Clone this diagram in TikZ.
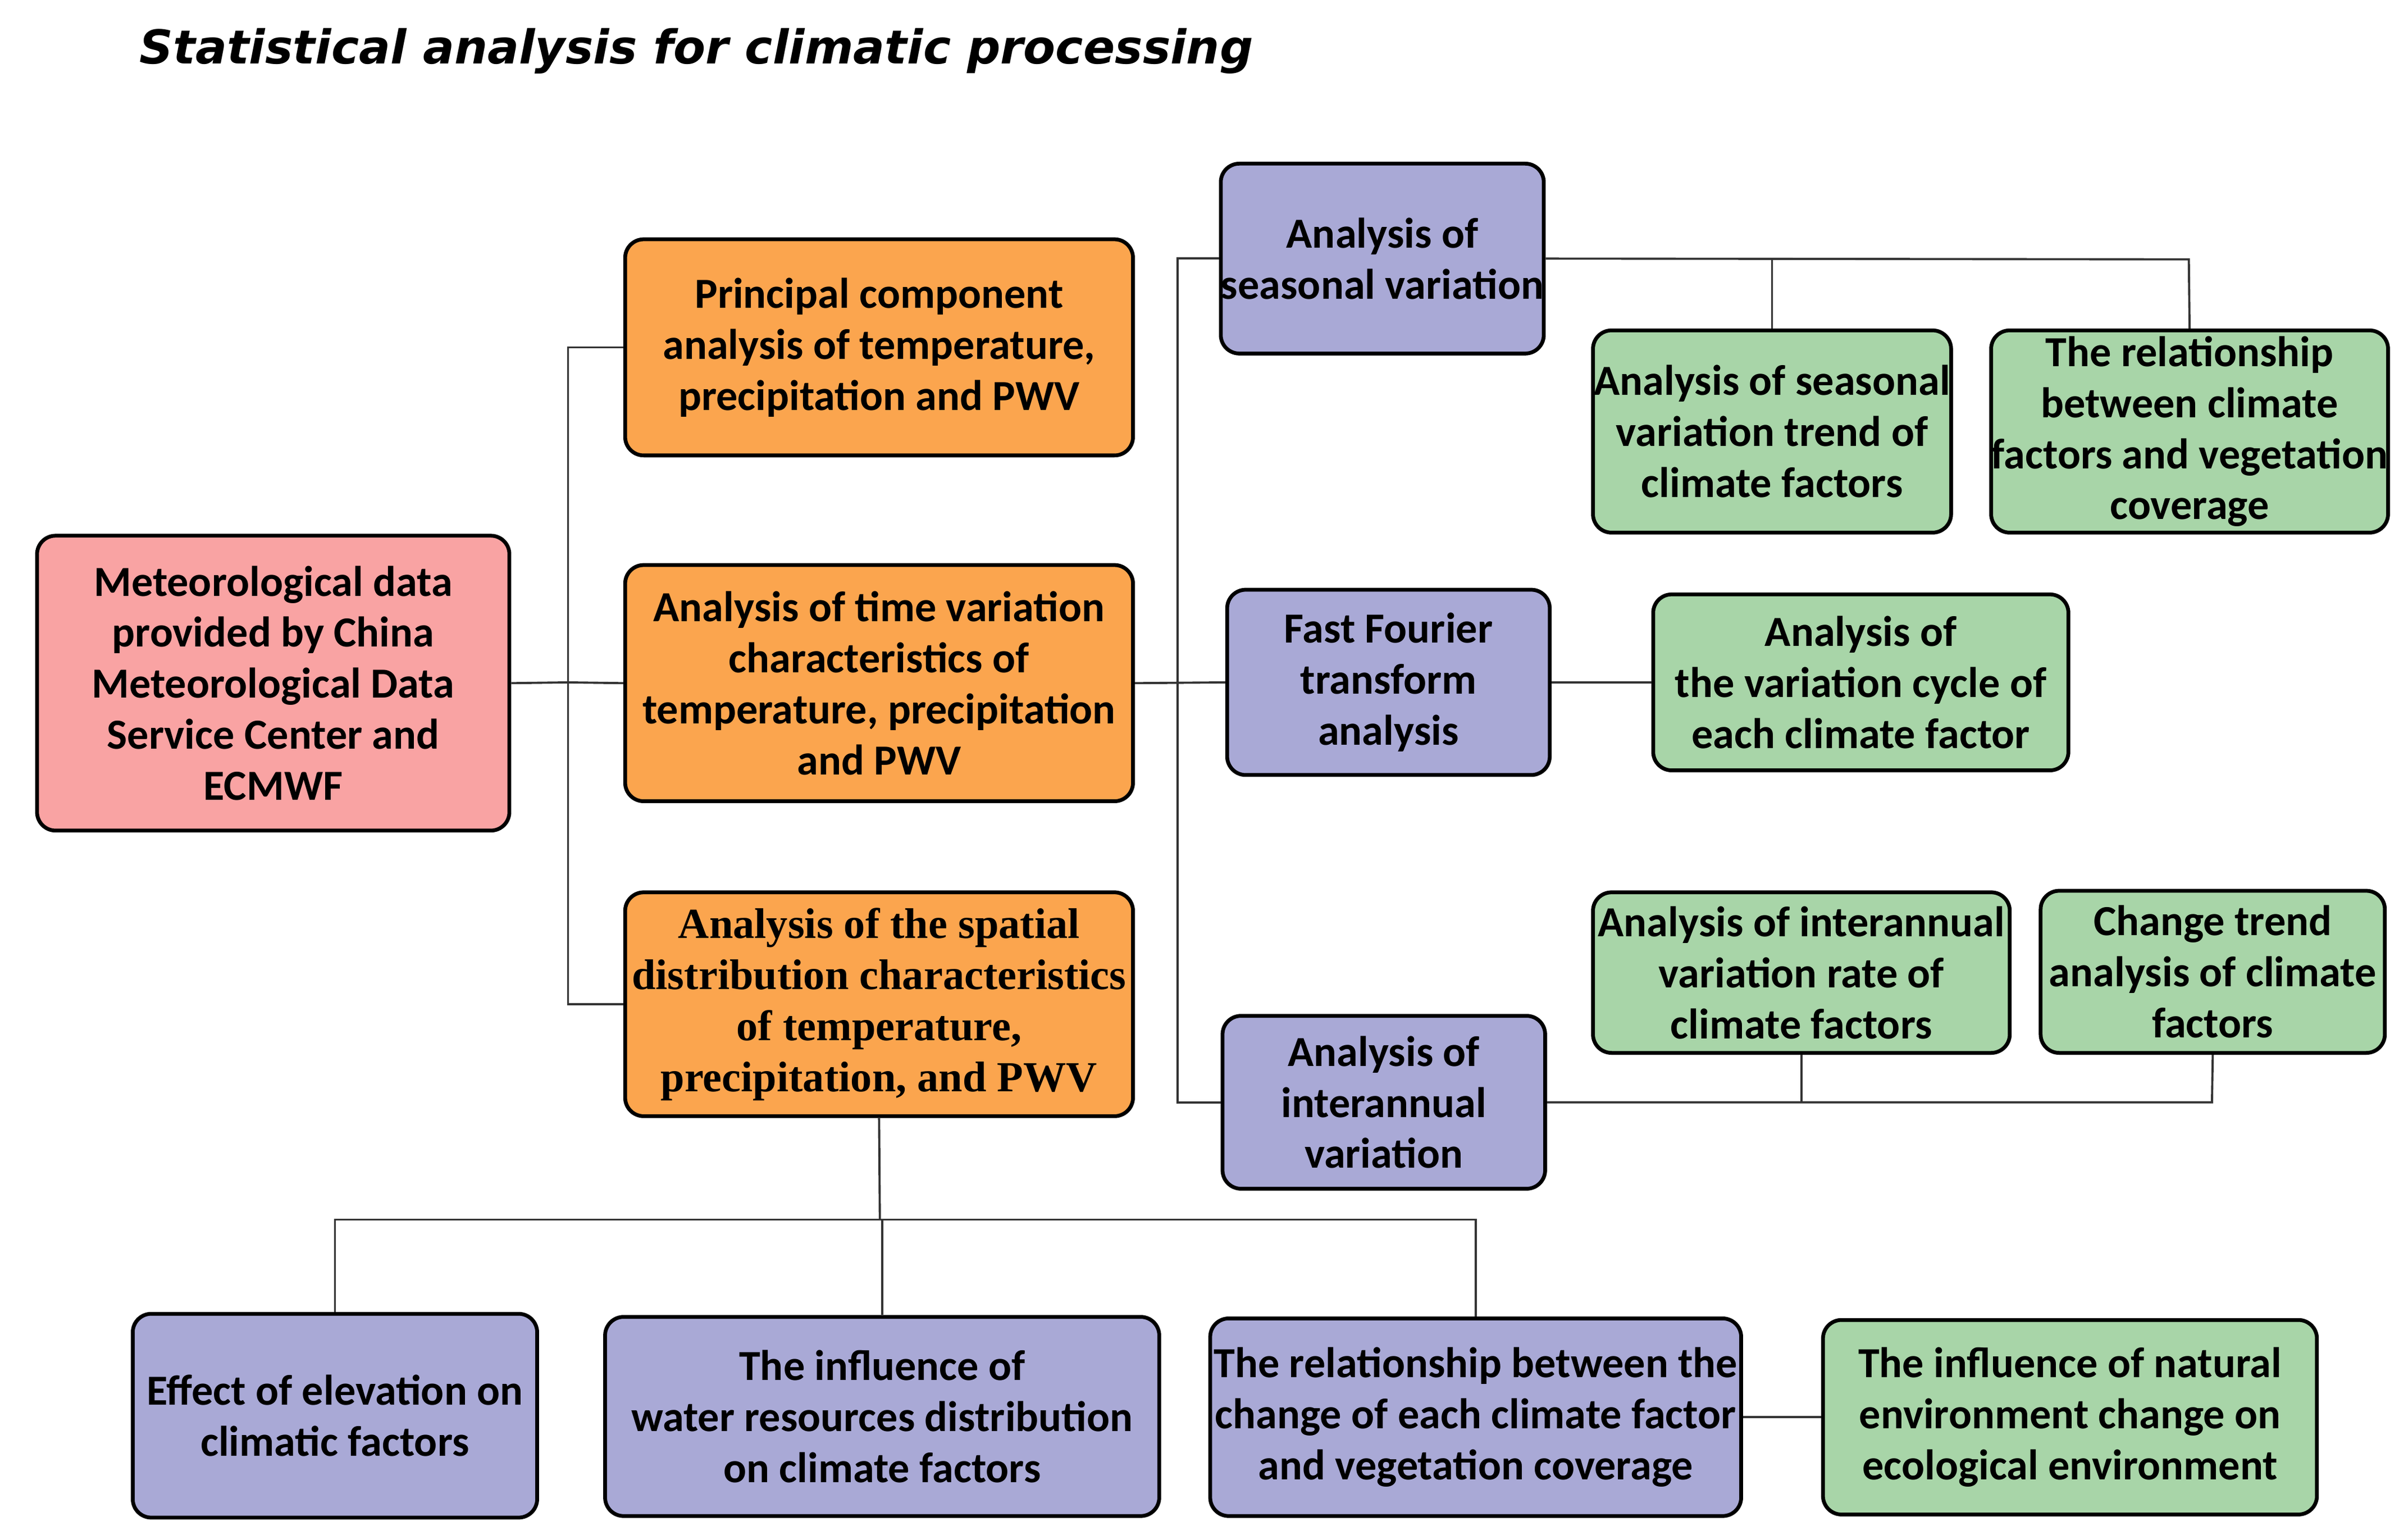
\documentclass[tikz,border=0pt]{standalone}
\usepackage{fontspec}
\setmainfont{Carlito}
\newfontfamily\serifb{Liberation Serif}
\newfontfamily\titlef{DejaVu Sans}
\definecolor{redf}{HTML}{F9A3A3}
\definecolor{orf}{HTML}{FBA54E}
\definecolor{puf}{HTML}{A9A9D6}
\definecolor{grf}{HTML}{A8D5A8}
\begin{document}
\begin{tikzpicture}[x=0.01cm,y=-0.01cm,
 box/.style={draw=black,line width=0.7pt,rounded corners=0.12cm,inner sep=0pt,align=center,font=\fontsize{7.9}{9.4}\selectfont\bfseries},
 red/.style={box,fill=redf},or/.style={box,fill=orf},pu/.style={box,fill=puf},gr/.style={box,fill=grf},
 ln/.style={draw=black!80,line width=0.4pt}]
\useasboundingbox (0,0) rectangle (1560,994);
\node[anchor=west,font=\titlef\bfseries\itshape\fontsize{8.6}{10}\selectfont] (title) at (78,33) {Statistical analysis for climatic processing};
\newcommand\bx[7]{\node[#1,minimum width=#4*0.01cm-#2*0.01cm,minimum height=#5*0.01cm-#3*0.01cm] (#6) at ({(#2+#4)/2},{(#3+#5)/2}) {#7};}
\bx{red}{24}{347}{330}{538}{met}{Meteorological data\\provided by China\\Meteorological Data\\Service Center and\\ECMWF}
\bx{or}{405}{155}{734}{295}{o1}{Principal component\\analysis of temperature,\\precipitation and PWV}
\bx{or}{405}{366}{734}{519}{o2}{Analysis of time variation\\characteristics of\\temperature, precipitation\\and PWV}
\bx{or}{405}{578}{734}{723}{o3}{\serifb\bfseries Analysis of the spatial\\\serifb\bfseries distribution characteristics\\\serifb\bfseries of temperature,\\\serifb\bfseries precipitation, and PWV}
\bx{pu}{791}{106}{1000}{229}{sea}{Analysis of\\seasonal variation}
\bx{pu}{795}{382}{1004}{502}{fft}{Fast Fourier\\transform\\analysis}
\bx{pu}{792}{658}{1001}{770}{inter}{Analysis of\\interannual\\variation}
\bx{gr}{1032}{214}{1264}{345}{g1}{Analysis of seasonal\\variation trend of\\climate factors}
\bx{gr}{1291}{214}{1546}{345}{g2}{The relationship\\between climate\\factors and vegetation\\coverage}
\bx{gr}{1071}{385}{1340}{499}{g3}{Analysis of\\the variation cycle of\\each climate factor}
\bx{gr}{1032}{578}{1302}{682}{g4}{Analysis of interannual\\variation rate of\\climate factors}
\bx{gr}{1322}{577}{1545}{682}{g5}{Change trend\\analysis of climate\\factors}
\bx{pu}{86}{851}{348}{983}{b1}{Effect of elevation on\\climatic factors}
\bx{pu}{392}{853}{751}{982}{b2}{The influence of\\water resources distribution\\on climate factors}
\bx{pu}{784}{854}{1128}{982}{b3}{The relationship between the\\change of each climate factor\\and vegetation coverage}
\bx{gr}{1181}{855}{1501}{981}{b4}{The influence of natural\\environment change on\\ecological environment}
% connectors
\coordinate (j1) at (368,442);
\draw[ln] (met.east) -- (j1);
\draw[ln] (o1.west) -| (j1) |- (o3.west);
\draw[ln] (j1) -- (o2.west);
\coordinate (j2) at (763,442);
\draw[ln] (o2.east) -- (fft.west);
\draw[ln] (sea.west) -| (j2) |- (inter.west);
\coordinate (s1) at (1418,168);
\draw[ln] (sea.east) -- (s1) -- (g2.north);
\draw[ln] (g1.north) -- (g1.north|-s1);
\draw[ln] (fft.east) -- (g3.west);
\coordinate (i1) at (1433,714);
\draw[ln] (inter.east) -- (i1) -- (g5.south);
\draw[ln] (g4.south) -- (g4.south|-i1);
\coordinate (k) at (570,790);
\draw[ln] (o3.south) -- (k);
\draw[ln] (b1.north) |- (k) -| (b3.north);
\draw[ln] (b2.north) -- (b2.north|-k);
\draw[ln] (b3.east) -- (b4.west);
\end{tikzpicture}
\end{document}
